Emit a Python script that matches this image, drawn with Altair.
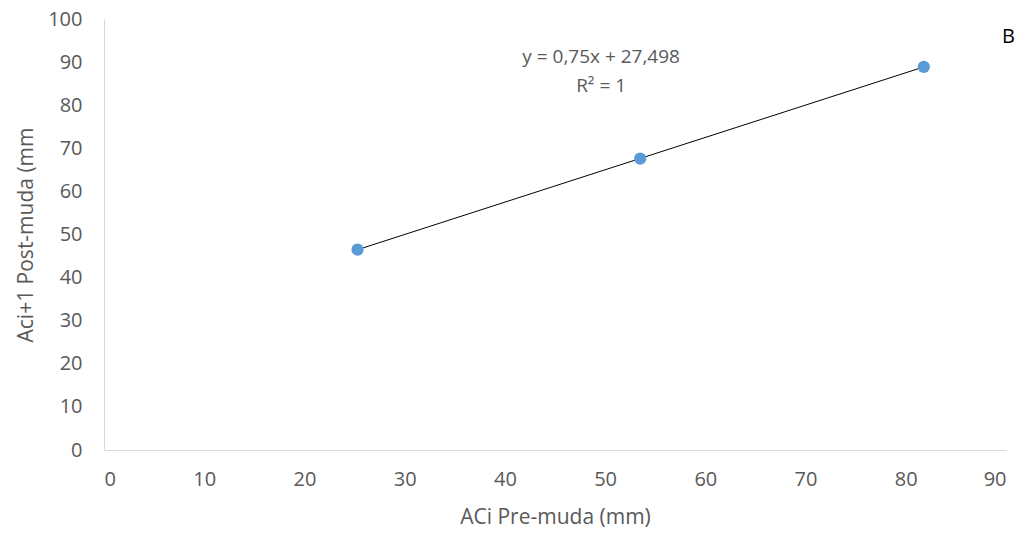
import altair as alt
import pandas as pd

x_vals = [25.3, 53.5, 81.8]
y_vals = [46.5, 67.6, 88.9]
x_ticks = [0, 10, 20, 30, 40, 50, 60, 70, 80, 90]
y_ticks = [0, 10, 20, 30, 40, 50, 60, 70, 80, 90, 100]
eq_lines = ["y = 0,75x + 27,498", "R² = 1"]
eq_x = [49.6, 49.6]
eq_y = [91.2, 84.5]

FONT = "Open Sans"
df = pd.DataFrame({"x": x_vals, "y": y_vals})
eq = pd.DataFrame({"t": eq_lines, "x": eq_x, "y": eq_y})

xs = alt.Scale(domain=[0, 90], nice=False, zero=False)
ys = alt.Scale(domain=[0, 100], nice=False, zero=False)

xax = alt.Axis(values=x_ticks, title="ACi Pre-muda (mm)", grid=False, ticks=False,
               domainColor="#d9d9d9", labelColor="#595959", titleColor="#595959",
               labelFont=FONT, titleFont=FONT, labelFontSize=20, titleFontSize=21,
               titleFontWeight="normal", labelPadding=19, titlePadding=17)
yax = alt.Axis(values=y_ticks, title="Aci+1 Post-muda (mm", grid=False, ticks=False,
               domainColor="#d9d9d9", labelColor="#595959", titleColor="#595959",
               labelFont=FONT, titleFont=FONT, labelFontSize=20, titleFontSize=21,
               titleFontWeight="normal", labelPadding=22, titlePadding=11)

base = alt.Chart(df)
line = base.transform_regression("x", "y").mark_line(color="black", strokeWidth=1).encode(
    x=alt.X("x:Q", scale=xs, axis=xax), y=alt.Y("y:Q", scale=ys, axis=yax))
pts = base.mark_circle(size=150, color="#5B9BD5", opacity=1).encode(
    x=alt.X("x:Q", scale=xs), y=alt.Y("y:Q", scale=ys))
txt = alt.Chart(eq).mark_text(font=FONT, fontSize=19, color="#595959").encode(
    x=alt.X("x:Q", scale=xs), y=alt.Y("y:Q", scale=ys), text="t:N")
lbl = alt.Chart(pd.DataFrame({"t": ["B"]})).mark_text(font=FONT, fontSize=20, color="black", align="left").encode(
    x=alt.value(898), y=alt.value(18), text="t:N")

chart = alt.layer(line, pts, txt, lbl).properties(
    width=902, height=431,
    autosize=alt.AutoSizeParams(type="none"),
    padding={"left": 104, "top": 19, "right": 20, "bottom": 83},
).configure_view(stroke=None)

chart.save("out.html", embed_options={"renderer": "svg", "actions": False})
